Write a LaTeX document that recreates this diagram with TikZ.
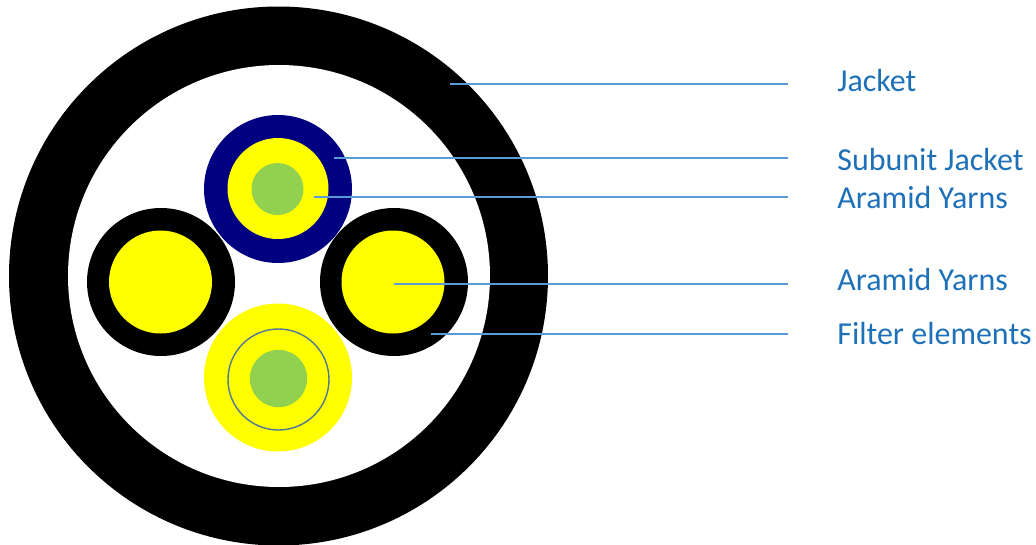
\documentclass[tikz,border=0pt]{standalone}
\usepackage{fontspec}
\setmainfont{Carlito}
\usepackage{xcolor}
\definecolor{cbnavy}{RGB}{0,0,128}
\definecolor{cbyellow}{RGB}{255,255,0}
\definecolor{cbgreen}{RGB}{146,208,80}
\definecolor{cbline}{RGB}{91,155,213}
\definecolor{cbring}{RGB}{80,120,150}
\definecolor{cbtext}{RGB}{30,113,184}
\usepackage{tikz}
\tikzset{
  leader/.style={draw=cbline,line width=0.7pt,shorten >=0.98cm},
  partlabel/.style={anchor=west,inner sep=0pt,text=cbtext,font=\fontsize{18.2}{22}\selectfont}
}
\newcommand{\disc}[4]{\fill[#4] (#1,#2) circle[radius=#3];}
\begin{document}
\begin{tikzpicture}[x=0.02cm,y=-0.02cm]
\useasboundingbox (0,0) rectangle (1036,545);
% ---- kabel, przekroj ----
\disc{278.5}{276}{269.5}{black}
\disc{279}{276}{211}{white}
% gorna jednostka
\disc{278}{189}{74}{cbnavy}
\disc{278}{188.5}{50.5}{cbyellow}
\disc{277.5}{189}{26}{cbgreen}
% lewa i prawa jednostka
\disc{161}{282}{74}{black}
\disc{160.5}{282}{51.5}{cbyellow}
\disc{394}{282}{74}{black}
\disc{393}{282}{51.5}{cbyellow}
% dolna jednostka
\disc{278}{377.5}{74}{cbyellow}
\draw[cbring,line width=0.8pt] (278.5,379.5) circle[radius=50.5];
\disc{278.5}{378.5}{28.7}{cbgreen}
% punkty poczatkowe
\coordinate (jackettip) at (450,84);
\coordinate (subunittip) at (334,158);
\coordinate (yarntoptip) at (314,197);
\coordinate (yarnrighttip) at (394,284);
\coordinate (filtertip) at (431,334);
% opisy
\node[partlabel] (jacketlabel) at (837,81) {Jacket};
\node[partlabel] (subunitlabel) at (837,160) {Subunit Jacket};
\node[partlabel] (yarntoplabel) at (837,198) {Aramid Yarns};
\node[partlabel] (yarnrightlabel) at (837,280) {Aramid Yarns};
\node[partlabel] (filterlabel) at (837,334) {Filter elements};
% linie
\draw[leader] (jackettip) -- (jackettip -| jacketlabel.west);
\draw[leader] (subunittip) -- (subunittip -| subunitlabel.west);
\draw[leader] (yarntoptip) -- (yarntoptip -| yarntoplabel.west);
\draw[leader] (yarnrighttip) -- (yarnrighttip -| yarnrightlabel.west);
\draw[leader] (filtertip) -- (filtertip -| filterlabel.west);
\end{tikzpicture}
\end{document}
